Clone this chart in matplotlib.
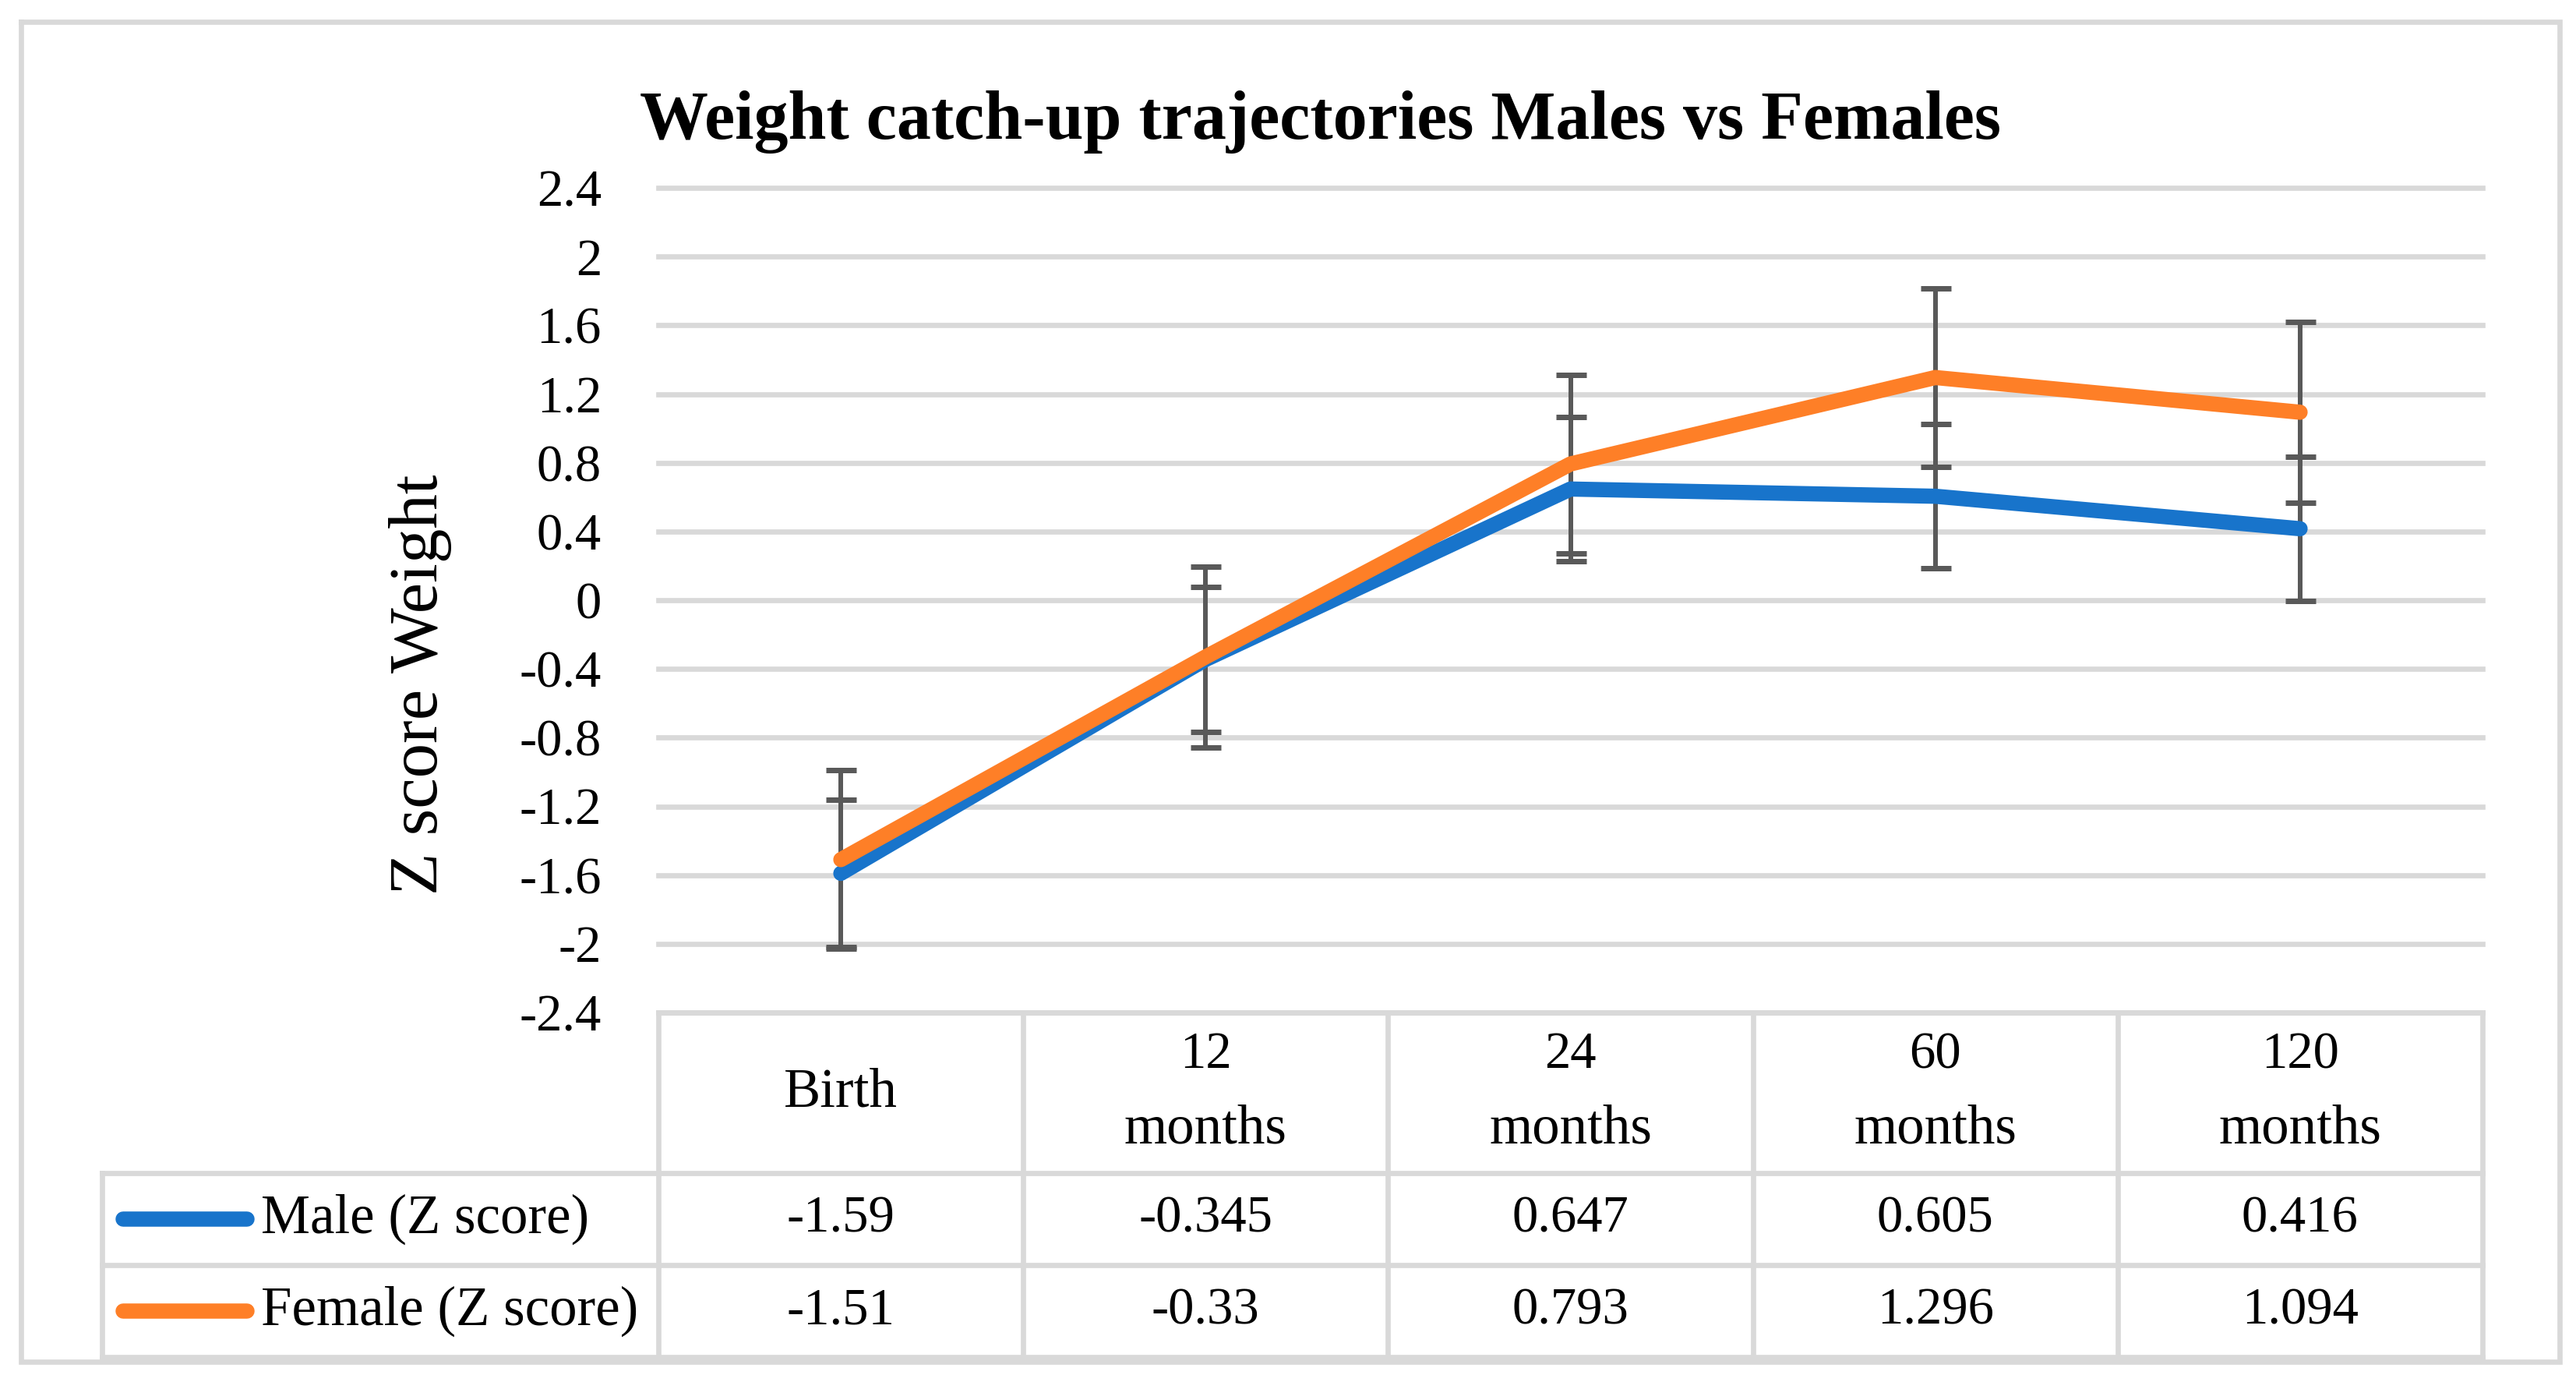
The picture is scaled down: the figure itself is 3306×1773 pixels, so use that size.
import numpy as np
import matplotlib.pyplot as plt

plt.rcParams['font.family'] = ['Liberation Serif', 'DejaVu Serif']

# data
categories = ['Birth', '12\nmonths', '24\nmonths', '60\nmonths', '120\nmonths']
male = [-1.59, -0.345, 0.647, 0.605, 0.416]
female = [-1.51, -0.33, 0.793, 1.296, 1.094]
male_sd = [0.43, 0.422, 0.42, 0.42, 0.42]
female_sd = [0.52, 0.526, 0.52, 0.52, 0.525]
series_names = ['Male (Z score)', 'Female (Z score)']
y_ticks = [-2.4, -2.0, -1.6, -1.2, -0.8, -0.4, 0.0, 0.4, 0.8, 1.2, 1.6, 2.0, 2.4]
title = 'Weight catch-up trajectories Males vs Females'
ylabel = 'Z score Weight'

BLUE = '#1874CB'
ORANGE = '#FE7F27'
GRID = '#D9D9D9'
ERR = '#595959'

# layout in pixels (figure is 3306 x 1773 at 200 dpi)
W, H, DPI = 3306, 1773, 200
PX = 72.0 / DPI  # points per pixel
plot_l, plot_r, plot_t, plot_b = 845, 3186, 241, 1299
leg_l = 131
row_lines = [1505, 1623, 1741]
line_w = 6.7 * PX
NUM_FS = 24
WORD_FS = 25.5

fig = plt.figure(figsize=(W / DPI, H / DPI), dpi=DPI)

# overlay axes in pixel coordinates for frame and table
ov = fig.add_axes([0, 0, 1, 1])
ov.set_xlim(0, W)
ov.set_ylim(H, 0)
ov.axis('off')

ax = fig.add_axes([plot_l / W, 1 - plot_b / H, (plot_r - plot_l) / W, (plot_b - plot_t) / H])
ax.patch.set_alpha(0)
x = np.arange(len(categories))
ax.set_xlim(-0.5, len(categories) - 0.5)
ax.set_ylim(y_ticks[0], y_ticks[-1])
ax.set_yticks(y_ticks)
ax.set_yticklabels([f'{v:g}' for v in y_ticks])
ax.set_xticks([])
ax.tick_params(axis='y', length=0, pad=73 * PX, labelsize=NUM_FS)
for s in ax.spines.values():
    s.set_visible(False)
ax.grid(axis='y', color=GRID, lw=line_w)
ax.set_axisbelow(True)
for gl in ax.get_ygridlines():
    gl.set_clip_on(False)

for vals, sd in [(male, male_sd), (female, female_sd)]:
    ax.errorbar(x, vals, yerr=sd, fmt='none', ecolor=ERR, elinewidth=6 * PX,
                capsize=19.5 * PX, capthick=7 * PX, zorder=2)
ax.plot(x, male, color=BLUE, lw=19.5 * PX, solid_capstyle='round', solid_joinstyle='round', zorder=3)
ax.plot(x, female, color=ORANGE, lw=19.5 * PX, solid_capstyle='round', solid_joinstyle='round', zorder=4)

# title and y label
fig.text(1695 / W, 1 - 178 / H, title, ha='center', va='baseline', fontsize=31.7, fontweight='bold')
fig.text(540 / W, 1 - 878 / H, ylabel, ha='center', va='center', rotation=90, fontsize=32)

# outer frame
ov.plot([27, 3285, 3285, 27, 27], [28, 28, 1747, 1747, 28], color=GRID, lw=line_w, solid_joinstyle='miter')

# data table
cell_w = (plot_r - plot_l) / len(categories)
ov.plot([plot_l, plot_r], [plot_b, plot_b], color=GRID, lw=line_w)
for yl in row_lines:
    ov.plot([leg_l, plot_r], [yl, yl], color=GRID, lw=line_w)
ov.plot([leg_l, leg_l], [row_lines[0], row_lines[-1]], color=GRID, lw=line_w)
for i in range(len(categories) + 1):
    xc = plot_l + i * cell_w
    ov.plot([xc, xc], [plot_b, row_lines[-1]], color=GRID, lw=line_w)

head_mid = (plot_b + row_lines[0]) / 2
for i, cat in enumerate(categories):
    xc = plot_l + (i + 0.5) * cell_w
    parts = cat.split('\n')
    if len(parts) == 1:
        ov.text(xc, head_mid, parts[0], ha='center', va='center', fontsize=WORD_FS)
    else:
        ov.text(xc, head_mid - 48, parts[0], ha='center', va='center', fontsize=NUM_FS)
        ov.text(xc, head_mid + 47, parts[1], ha='center', va='center', fontsize=WORD_FS)

for r, (vals, name, col) in enumerate([(male, series_names[0], BLUE), (female, series_names[1], ORANGE)]):
    yc = (row_lines[r] + row_lines[r + 1]) / 2
    ov.plot([158, 317], [yc, yc], color=col, lw=19.5 * PX, solid_capstyle='round')
    ov.text(335, yc, name, ha='left', va='center', fontsize=WORD_FS)
    for i, v in enumerate(vals):
        xc = plot_l + (i + 0.5) * cell_w
        ov.text(xc, yc, f'{v:g}', ha='center', va='center', fontsize=NUM_FS)

fig.savefig('out.png', dpi=DPI)
